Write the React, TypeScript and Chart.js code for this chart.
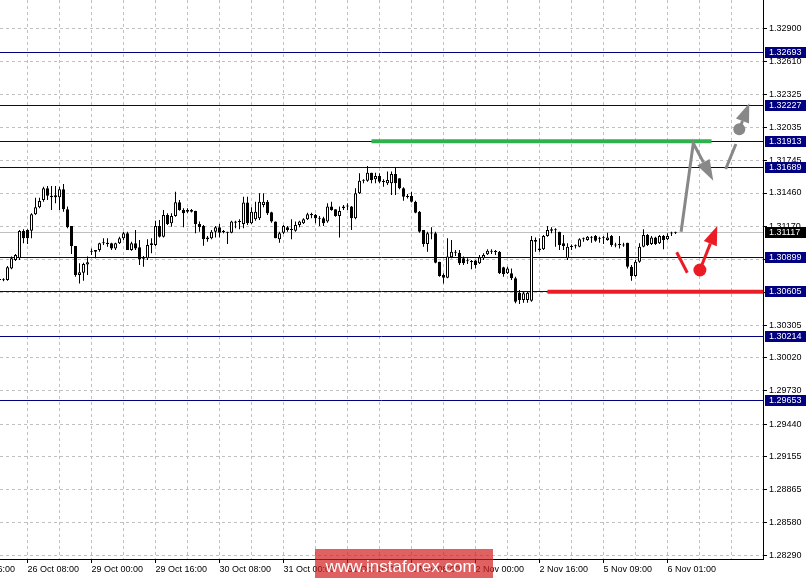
import React, { useEffect, useRef } from "react";
import { Chart, registerables } from "chart.js";

Chart.register(...registerables);

// ---- candle data (H1 bars, bar index starts at FIRST_BAR) ----
const FIRST_BAR = -1;
const OPEN = [
  1.30700, 1.30697, 1.30700, 1.30801, 1.30874, 1.30889, 1.31128, 1.31137, 1.31131, 1.31274,
  1.31335, 1.31399, 1.31501, 1.31437, 1.31440, 1.31422, 1.31492, 1.31317, 1.31172, 1.30997,
  1.30743, 1.30764, 1.30836, 1.30947, 1.30947, 1.30962, 1.31020, 1.31026, 1.31020, 1.30976,
  1.31020, 1.31064, 1.31108, 1.30962, 1.31020, 1.30985, 1.30889, 1.30889, 1.31005, 1.31005,
  1.31172, 1.31078, 1.31268, 1.31195, 1.31259, 1.31379, 1.31311, 1.31311, 1.31297, 1.31303,
  1.31189, 1.31172, 1.31072, 1.31064, 1.31122, 1.31160, 1.31122, 1.31113, 1.31113, 1.31210,
  1.31207, 1.31189, 1.31376, 1.31195, 1.31230, 1.31239, 1.31355, 1.31384, 1.31291, 1.31210,
  1.31055, 1.31113, 1.31160, 1.31143, 1.31131, 1.31180, 1.31195, 1.31230, 1.31265, 1.31268,
  1.31239, 1.31239, 1.31210, 1.31341, 1.31317, 1.31259, 1.31326, 1.31341, 1.31341, 1.31239,
  1.31457, 1.31568, 1.31568, 1.31638, 1.31580, 1.31609, 1.31559, 1.31545, 1.31545, 1.31626,
  1.31588, 1.31501, 1.31428, 1.31434, 1.31384, 1.31297, 1.31137, 1.31014, 1.31108, 1.31108,
  1.30860, 1.30743, 1.30720, 1.30898, 1.30938, 1.30938, 1.30889, 1.30866, 1.30860, 1.30869,
  1.30845, 1.30889, 1.30924, 1.30950, 1.30947, 1.30947, 1.30810, 1.30758, 1.30758, 1.30714,
  1.30589, 1.30525, 1.30525, 1.30519, 1.31049, 1.30962, 1.30968, 1.31084, 1.31143, 1.31137,
  1.31122, 1.31020, 1.30889, 1.30991, 1.30997, 1.30991, 1.31055, 1.31049, 1.31072, 1.31084,
  1.31064, 1.31064, 1.31049, 1.31084, 1.31005, 1.31005, 1.31005, 1.31026, 1.30816, 1.30735,
  1.30860, 1.30991, 1.31093, 1.31014, 1.31072, 1.31020, 1.31084, 1.31055, 1.31105, 1.31113,
];
const HIGH = [
  1.30712, 1.30715, 1.30822, 1.30904, 1.30927, 1.31137, 1.31143, 1.31143, 1.31282, 1.31419,
  1.31419, 1.31515, 1.31521, 1.31521, 1.31521, 1.31515, 1.31539, 1.31341, 1.31172, 1.30997,
  1.30845, 1.30851, 1.30904, 1.30976, 1.30962, 1.31026, 1.31064, 1.31064, 1.31026, 1.31026,
  1.31078, 1.31122, 1.31122, 1.31035, 1.31137, 1.31049, 1.30909, 1.31055, 1.31064, 1.31218,
  1.31224, 1.31311, 1.31282, 1.31282, 1.31472, 1.31399, 1.31326, 1.31326, 1.31320, 1.31306,
  1.31210, 1.31180, 1.31084, 1.31137, 1.31172, 1.31189, 1.31137, 1.31122, 1.31218, 1.31218,
  1.31230, 1.31428, 1.31428, 1.31335, 1.31384, 1.31457, 1.31457, 1.31399, 1.31297, 1.31210,
  1.31122, 1.31180, 1.31172, 1.31230, 1.31210, 1.31218, 1.31239, 1.31288, 1.31288, 1.31277,
  1.31259, 1.31253, 1.31370, 1.31384, 1.31317, 1.31341, 1.31355, 1.31370, 1.31346, 1.31501,
  1.31632, 1.31580, 1.31696, 1.31638, 1.31638, 1.31632, 1.31580, 1.31647, 1.31647, 1.31684,
  1.31588, 1.31510, 1.31451, 1.31472, 1.31393, 1.31303, 1.31137, 1.31122, 1.31160, 1.31122,
  1.30860, 1.30758, 1.31064, 1.31049, 1.30962, 1.30962, 1.30904, 1.30889, 1.30874, 1.30874,
  1.30918, 1.30933, 1.30968, 1.30968, 1.30962, 1.30953, 1.30816, 1.30816, 1.30801, 1.30729,
  1.30612, 1.30598, 1.30598, 1.31084, 1.31072, 1.31064, 1.31093, 1.31172, 1.31160, 1.31151,
  1.31122, 1.31093, 1.31020, 1.31011, 1.31011, 1.31064, 1.31072, 1.31084, 1.31084, 1.31093,
  1.31078, 1.31084, 1.31113, 1.31093, 1.31026, 1.31084, 1.31026, 1.31026, 1.30831, 1.30874,
  1.31020, 1.31143, 1.31102, 1.31084, 1.31078, 1.31093, 1.31093, 1.31108, 1.31122, 1.31122,
];
const LOW = [
  1.30690, 1.30688, 1.30694, 1.30793, 1.30866, 1.30874, 1.31020, 1.31014, 1.31064, 1.31268,
  1.31326, 1.31384, 1.31399, 1.31311, 1.31370, 1.31311, 1.31297, 1.31151, 1.30927, 1.30729,
  1.30670, 1.30694, 1.30743, 1.30918, 1.30889, 1.30947, 1.31005, 1.30991, 1.30962, 1.30962,
  1.31014, 1.31049, 1.30962, 1.30956, 1.30962, 1.30831, 1.30816, 1.30874, 1.30933, 1.30997,
  1.31072, 1.31072, 1.31180, 1.31166, 1.31253, 1.31306, 1.31160, 1.31282, 1.31290, 1.31108,
  1.31122, 1.31000, 1.31035, 1.31055, 1.31072, 1.31072, 1.31108, 1.31014, 1.31108, 1.31151,
  1.31143, 1.31151, 1.31180, 1.31189, 1.31218, 1.31224, 1.31335, 1.31268, 1.31201, 1.31064,
  1.31026, 1.31102, 1.31122, 1.31055, 1.31122, 1.31160, 1.31189, 1.31224, 1.31239, 1.31195,
  1.31172, 1.31172, 1.31201, 1.31306, 1.31253, 1.31072, 1.31311, 1.31311, 1.31137, 1.31230,
  1.31451, 1.31545, 1.31559, 1.31545, 1.31545, 1.31545, 1.31515, 1.31530, 1.31443, 1.31443,
  1.31492, 1.31393, 1.31413, 1.31376, 1.31282, 1.31113, 1.30991, 1.30947, 1.31055, 1.30845,
  1.30729, 1.30670, 1.30714, 1.30889, 1.30909, 1.30831, 1.30831, 1.30839, 1.30793, 1.30801,
  1.30839, 1.30874, 1.30918, 1.30927, 1.30918, 1.30752, 1.30729, 1.30752, 1.30700, 1.30496,
  1.30490, 1.30501, 1.30501, 1.30510, 1.30947, 1.30947, 1.30962, 1.31078, 1.31108, 1.30991,
  1.30962, 1.30962, 1.30874, 1.30962, 1.30976, 1.30985, 1.31035, 1.31043, 1.31026, 1.31035,
  1.31026, 1.31014, 1.31043, 1.30991, 1.30985, 1.30976, 1.30991, 1.30801, 1.30694, 1.30729,
  1.30851, 1.30985, 1.30997, 1.31005, 1.31005, 1.31014, 1.30968, 1.31049, 1.31084, 1.31102,
];
const CLOSE = [
  1.30703, 1.30700, 1.30810, 1.30889, 1.30918, 1.31128, 1.31064, 1.31064, 1.31274, 1.31335,
  1.31390, 1.31501, 1.31437, 1.31422, 1.31422, 1.31492, 1.31317, 1.31160, 1.30997, 1.30743,
  1.30767, 1.30839, 1.30854, 1.30950, 1.30962, 1.31020, 1.31023, 1.31014, 1.30976, 1.31020,
  1.31064, 1.31108, 1.30962, 1.31020, 1.30976, 1.30880, 1.30886, 1.31005, 1.31020, 1.31172,
  1.31078, 1.31268, 1.31189, 1.31259, 1.31379, 1.31311, 1.31282, 1.31297, 1.31311, 1.31189,
  1.31160, 1.31055, 1.31055, 1.31122, 1.31160, 1.31113, 1.31119, 1.31116, 1.31210, 1.31201,
  1.31210, 1.31376, 1.31195, 1.31297, 1.31297, 1.31384, 1.31384, 1.31282, 1.31210, 1.31064,
  1.31108, 1.31172, 1.31137, 1.31137, 1.31180, 1.31210, 1.31230, 1.31274, 1.31277, 1.31239,
  1.31236, 1.31195, 1.31341, 1.31311, 1.31259, 1.31303, 1.31341, 1.31344, 1.31239, 1.31457,
  1.31568, 1.31571, 1.31638, 1.31574, 1.31609, 1.31559, 1.31556, 1.31574, 1.31626, 1.31545,
  1.31501, 1.31428, 1.31425, 1.31384, 1.31288, 1.31122, 1.31014, 1.31108, 1.31105, 1.30851,
  1.30735, 1.30720, 1.30904, 1.30947, 1.30941, 1.30845, 1.30845, 1.30863, 1.30857, 1.30831,
  1.30898, 1.30918, 1.30956, 1.30947, 1.30944, 1.30758, 1.30752, 1.30801, 1.30714, 1.30510,
  1.30525, 1.30583, 1.30589, 1.31049, 1.31035, 1.30976, 1.31084, 1.31137, 1.31131, 1.31134,
  1.31005, 1.30997, 1.30991, 1.30988, 1.30994, 1.31055, 1.31058, 1.31078, 1.31069, 1.31043,
  1.31061, 1.31067, 1.31072, 1.31005, 1.31002, 1.31008, 1.31002, 1.30816, 1.30735, 1.30860,
  1.30991, 1.31093, 1.31005, 1.31072, 1.31014, 1.31084, 1.31049, 1.31084, 1.31108, 1.31117,
];

// ---- axes ----
const Y_MIN = 1.28261;
const Y_MAX = 1.33147;
const Y_TICK_LABELS = [
  "1.32900", "1.32610", "1.32325", "1.32035", "1.31745", "1.31460", "1.31170", "1.30880", "1.30590",
  "1.30305", "1.30020", "1.29730", "1.29440", "1.29155", "1.28865", "1.28580", "1.28290",
];
const X_MIN = -0.875;
const X_MAX = 189.875;
const X_GRID_BARS = [-10, -2, 6, 14, 22, 30, 38, 46, 54, 62, 70, 78, 86, 94, 102, 110, 118, 126, 134, 142, 150, 158, 166, 174, 182];
const X_LABEL_BARS = [-10, 6, 22, 38, 54, 70, 86, 102, 118, 134, 150, 166];
const X_LABELS = [
  "25 Oct 16:00", "26 Oct 08:00", "29 Oct 00:00", "29 Oct 16:00", "30 Oct 08:00", "31 Oct 00:00",
  "31 Oct 16:00", "1 Nov 08:00", "2 Nov 00:00", "2 Nov 16:00", "5 Nov 09:00", "6 Nov 01:00",
];

// ---- levels & annotations ----
const LEVELS = [1.32693, 1.32227, 1.31913, 1.31689, 1.30899, 1.30605, 1.30214, 1.29653];
const CURRENT_PRICE = 1.31117;
const GREEN_LEVEL = 1.31913;
const GREEN_FROM_BAR = 92;
const GREEN_TO_BAR = 177;
const RED_LEVEL = 1.30605;
const RED_FROM_BAR = 136;
// gray scenario (bar index, price)
const GRAY_PATH_BARS = [169.4, 172.45, 177.45];
const GRAY_PATH_PRICES = [1.31122, 1.31894, 1.31567];
const GRAY_DASH_BARS = [180.55, 183.1];
const GRAY_DASH_PRICES = [1.31670, 1.31888];
const GRAY_UP_BARS = [183.95, 186.45];
const GRAY_UP_PRICES = [1.32017, 1.32244];
// red scenario
const RED_DASH_BARS = [168.3, 170.95];
const RED_DASH_PRICES = [1.30942, 1.30763];
const RED_UP_BARS = [174.1, 178.45];
const RED_UP_PRICES = [1.30787, 1.31172];

const FONT = "Liberation Sans";
const NAVY = "#000080";
const GRAY = "#888888";
const RED = "#ec1c24";
const GREEN = "#2fb24e";

function arrowHead(ctx: CanvasRenderingContext2D, x1: number, y1: number, x2: number, y2: number, len: number, half: number, color: string) {
  const ang = Math.atan2(y2 - y1, x2 - x1);
  const bx = x2 - Math.cos(ang) * len;
  const by = y2 - Math.sin(ang) * len;
  const nx = -Math.sin(ang) * half;
  const ny = Math.cos(ang) * half;
  ctx.fillStyle = color;
  ctx.beginPath();
  ctx.moveTo(x2, y2);
  ctx.lineTo(bx + nx, by + ny);
  ctx.lineTo(bx - nx, by - ny);
  ctx.closePath();
  ctx.fill();
  return [bx, by];
}

const overlayPlugin = {
  id: "overlay",
  beforeDatasetsDraw(chart: any) {
    const { ctx, chartArea: a, scales } = chart;
    const y = scales.y;
    ctx.save();
    ctx.lineWidth = 1;
    const cy = Math.round(y.getPixelForValue(CURRENT_PRICE)) + 0.5;
    ctx.strokeStyle = "#c0c0c0";
    ctx.beginPath();
    ctx.moveTo(a.left, cy);
    ctx.lineTo(a.right, cy);
    ctx.stroke();
    ctx.strokeStyle = NAVY;
    for (const lv of LEVELS) {
      const py = Math.round(y.getPixelForValue(lv)) + 0.5;
      ctx.beginPath();
      ctx.moveTo(a.left, py);
      ctx.lineTo(a.right, py);
      ctx.stroke();
    }
    ctx.restore();
  },
  afterDatasetsDraw(chart: any) {
    const { ctx, chartArea: a, scales } = chart;
    const x = scales.x;
    const y = scales.y;
    const px = (b: number) => x.getPixelForValue(b);
    const py = (p: number) => y.getPixelForValue(p);
    ctx.save();
    ctx.lineCap = "butt";
    // green resistance segment
    ctx.strokeStyle = GREEN;
    ctx.lineWidth = 4;
    ctx.beginPath();
    ctx.moveTo(px(GREEN_FROM_BAR), py(GREEN_LEVEL));
    ctx.lineTo(px(GREEN_TO_BAR), py(GREEN_LEVEL));
    ctx.stroke();
    // red support segment
    ctx.strokeStyle = RED;
    ctx.lineWidth = 4;
    ctx.beginPath();
    ctx.moveTo(px(RED_FROM_BAR), py(RED_LEVEL) + 1);
    ctx.lineTo(a.right, py(RED_LEVEL) + 1);
    ctx.stroke();

    // gray path with arrow
    const gx = GRAY_PATH_BARS.map(px);
    const gy = GRAY_PATH_PRICES.map(py);
    const [gbx, gby] = arrowHead(ctx, gx[1], gy[1], gx[2], gy[2], 21, 7, GRAY);
    ctx.strokeStyle = GRAY;
    ctx.lineWidth = 3;
    ctx.beginPath();
    ctx.moveTo(gx[0], gy[0]);
    ctx.lineTo(gx[1], gy[1]);
    ctx.lineTo(gbx, gby);
    ctx.stroke();
    // gray dash
    ctx.beginPath();
    ctx.moveTo(px(GRAY_DASH_BARS[0]), py(GRAY_DASH_PRICES[0]));
    ctx.lineTo(px(GRAY_DASH_BARS[1]), py(GRAY_DASH_PRICES[1]));
    ctx.stroke();
    // gray circle + up arrow
    const ux0 = px(GRAY_UP_BARS[0]), uy0 = py(GRAY_UP_PRICES[0]);
    const ux1 = px(GRAY_UP_BARS[1]), uy1 = py(GRAY_UP_PRICES[1]);
    ctx.fillStyle = GRAY;
    ctx.beginPath();
    ctx.arc(ux0, uy0, 6, 0, Math.PI * 2);
    ctx.fill();
    const [ubx, uby] = arrowHead(ctx, ux0, uy0, ux1, uy1, 19, 7, GRAY);
    ctx.beginPath();
    ctx.moveTo(ux0, uy0);
    ctx.lineTo(ubx, uby);
    ctx.stroke();

    // red dash
    ctx.strokeStyle = RED;
    ctx.lineWidth = 3;
    ctx.beginPath();
    ctx.moveTo(px(RED_DASH_BARS[0]), py(RED_DASH_PRICES[0]));
    ctx.lineTo(px(RED_DASH_BARS[1]), py(RED_DASH_PRICES[1]));
    ctx.stroke();
    // red circle + arrow
    const rx0 = px(RED_UP_BARS[0]), ry0 = py(RED_UP_PRICES[0]);
    const rx1 = px(RED_UP_BARS[1]), ry1 = py(RED_UP_PRICES[1]);
    ctx.fillStyle = RED;
    ctx.beginPath();
    ctx.arc(rx0, ry0, 6.5, 0, Math.PI * 2);
    ctx.fill();
    const [rbx, rby] = arrowHead(ctx, rx0, ry0, rx1, ry1, 19, 7, RED);
    ctx.beginPath();
    ctx.moveTo(rx0, ry0);
    ctx.lineTo(rbx, rby);
    ctx.stroke();
    ctx.restore();
  },
  afterDraw(chart: any) {
    const { ctx, chartArea: a, scales, width } = chart;
    const y = scales.y;
    ctx.save();
    ctx.font = `9px "${FONT}"`;
    ctx.textBaseline = "middle";
    ctx.textAlign = "left";
    const box = (price: number, bg: string) => {
      const yy = Math.round(y.getPixelForValue(price));
      ctx.fillStyle = bg;
      ctx.fillRect(a.right + 2, yy - 5, width - a.right - 2, 11);
      ctx.fillStyle = "#ffffff";
      ctx.fillText(price.toFixed(5), a.right + 6, yy + 0.5);
    };
    for (const lv of LEVELS) box(lv, NAVY);
    box(CURRENT_PRICE, "#000000");

    // watermark
    ctx.fillStyle = "rgba(210, 30, 30, 0.7)";
    ctx.fillRect(315, 549, 178, 29);
    ctx.fillStyle = "#ffffff";
    ctx.font = `17px "${FONT}"`;
    ctx.textAlign = "center";
    ctx.textBaseline = "alphabetic";
    ctx.fillText("www.instaforex.com", 401, 572);
    ctx.restore();
  },
};

export default function App() {
  const ref = useRef<HTMLCanvasElement>(null);
  useEffect(() => {
    const bodies = OPEN.map((o, i) => ({ x: FIRST_BAR + i, y: [Math.min(o, CLOSE[i]), Math.max(o, CLOSE[i])] }));
    const wicks = OPEN.map((_, i) => ({ x: FIRST_BAR + i, y: [LOW[i], HIGH[i]] }));
    const bodyColors = OPEN.map((o, i) => (CLOSE[i] >= o ? "#ffffff" : "#000000"));
    const tickFont = { family: FONT, size: 9 };
    const chart = new Chart(ref.current as HTMLCanvasElement, {
      type: "bar",
      data: {
        datasets: [
          {
            data: bodies as any,
            backgroundColor: bodyColors,
            borderColor: "#000000",
            borderWidth: 1,
            borderSkipped: false,
            barThickness: 3,
            minBarLength: 1,
            grouped: false,
            inflateAmount: 0,
            order: 0,
          } as any,
          {
            data: wicks as any,
            backgroundColor: "#000000",
            borderWidth: 0,
            barThickness: 1,
            grouped: false,
            inflateAmount: 0,
            order: 1,
          } as any,
        ],
      },
      options: {
        animation: false,
        responsive: false,
        devicePixelRatio: 1,
        layout: { padding: 0 },
        plugins: { legend: { display: false }, tooltip: { enabled: false } },
        events: [],
        scales: {
          x: {
            type: "linear",
            min: X_MIN,
            max: X_MAX,
            offset: false,
            bounds: "data",
            afterBuildTicks: (s: any) => {
              s.ticks = X_GRID_BARS.map((v) => ({ value: v }));
            },
            afterFit: (s: any) => {
              s.height = 21;
              s.paddingLeft = 0;
              s.paddingRight = 0;
            },
            ticks: {
              autoSkip: false,
              maxRotation: 0,
              minRotation: 0,
              align: "start",
              padding: 1,
              font: tickFont,
              color: "#000000",
              callback: (v: any) => {
                const i = X_LABEL_BARS.indexOf(v);
                return i >= 0 ? X_LABELS[i] : "";
              },
            },
            grid: {
              color: "#c0c0c0",
              offset: false,
              tickLength: 4,
              tickColor: (c: any) => (c.tick && X_LABEL_BARS.includes(c.tick.value) ? "#000000" : "rgba(0,0,0,0)"),
            },
            border: { display: true, color: "#000000", dash: [3, 3] },
          } as any,
          y: {
            type: "linear",
            position: "right",
            min: Y_MIN,
            max: Y_MAX,
            bounds: "data",
            afterBuildTicks: (s: any) => {
              s.ticks = Y_TICK_LABELS.map((l) => ({ value: parseFloat(l) }));
            },
            afterFit: (s: any) => {
              s.width = 43;
              s.paddingTop = 0;
              s.paddingBottom = 0;
            },
            ticks: {
              autoSkip: false,
              padding: 2,
              font: tickFont,
              color: "#000000",
              callback: (_v: any, i: number) => Y_TICK_LABELS[i],
            },
            grid: { color: "#c0c0c0", tickLength: 4, tickColor: "#000000" },
            border: { display: true, color: "#000000", dash: [3, 3] },
          } as any,
        },
      },
      plugins: [overlayPlugin],
    });
    return () => chart.destroy();
  }, []);
  return (
    <div style={{ position: "absolute", left: 0, top: 0, width: 806, height: 580, background: "#ffffff" }}>
      <canvas ref={ref} width={806} height={580} style={{ display: "block", width: 806, height: 580 }} />
    </div>
  );
}
